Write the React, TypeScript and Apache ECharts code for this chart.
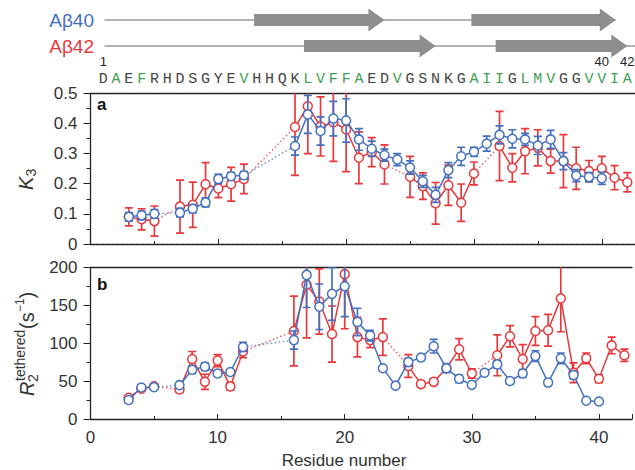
import React, { useEffect, useRef } from 'react';
import * as echarts from 'echarts';

// ---------- data ----------
const residues = [3, 4, 5, 6, 7, 8, 9, 10, 11, 12, 13, 14, 15, 16, 17, 18, 19, 20, 21, 22, 23, 24, 25, 26, 27, 28, 29, 30, 31, 32, 33, 34, 35, 36, 37, 38, 39, 40, 41, 42];

const k3Ab40 = [0.09, 0.095, 0.10, null, 0.104, 0.117, 0.138, 0.216, 0.225, 0.228, null, null, null, 0.325, 0.43, 0.375, 0.416, 0.41, 0.347, 0.316, 0.295, 0.28, 0.254, 0.208, 0.163, 0.245, 0.291, 0.306, 0.333, 0.362, 0.349, 0.347, 0.327, 0.347, 0.275, 0.227, 0.222, 0.218, null, null];
const k3Ab40Err = [0.014, 0.014, 0.014, null, 0.014, 0.014, 0.015, 0.015, 0.012, 0.012, null, null, null, 0.03, 0.063, 0.047, 0.057, 0.072, 0.036, 0.025, 0.02, 0.02, 0.022, 0.02, 0.025, 0.025, 0.03, 0.015, 0.025, 0.03, 0.03, 0.02, 0.03, 0.03, 0.028, 0.02, 0.015, 0.02, null, null];
const k3Ab42 = [0.09, 0.082, 0.076, null, 0.124, 0.13, 0.198, 0.184, 0.198, 0.216, null, null, null, 0.388, 0.457, 0.39, 0.404, 0.38, 0.286, 0.305, 0.264, null, 0.223, 0.192, 0.135, 0.195, 0.137, 0.234, null, 0.325, 0.253, 0.308, 0.319, 0.275, 0.275, 0.251, 0.242, 0.251, 0.22, 0.205];
const k3Ab42Err = [0.03, 0.035, 0.05, null, 0.088, 0.075, 0.072, 0.03, 0.056, 0.049, null, null, null, 0.16, 0.157, 0.098, 0.13, 0.14, 0.086, 0.048, 0.065, null, 0.068, 0.044, 0.069, 0.067, 0.062, 0.038, null, 0.115, 0.047, 0.075, 0.06, 0.04, 0.088, 0.07, 0.035, 0.04, 0.04, 0.032];

const r2Ab40 = [25, 41.5, 42, null, 44.6, 65, 69, 60, 62, 95, null, null, null, 104, 190, 148, 165, 175, 128, 110, 67, 44, 75, 81, 96, 67, 53, 45, 61, 72, 50, 60, 83, 48, 80, 58, 24, 23, null, null];
const r2Ab40Err = [3, 3, 3, null, 3, 5, 5, 4, 3, 6, null, null, null, 12, 43, 30, 35, 40, 18, 7, 3, 2, 5, 4, 9, 6, 5, 3, 3, 5, 4, 5, 7, 4, 7, 5, 3, 3, null, null];
const r2Ab42 = [28, 40, 43, null, 39, 79, 49, 77, 43, 89, null, null, null, 116, 177, 155, 112, 191, 108, 104, 108, null, 70, 46, 49, 67, 92, 60, null, 84, 109, 79, 116, 117, 159, 61, 80, 53, 97, 84];
const r2Ab42Err = [3, 3, 3, null, 4, 10, 10, 8, 5, 8, null, null, null, 46, 70, 43, 37, 72, 26, 10, 24, null, 15, 4, 4, 4, 14, 6, null, 27, 14, 19, 19, 21, 44, 13, 7, 5, 11, 8];

const sequence = ['D', 'A', 'E', 'F', 'R', 'H', 'D', 'S', 'G', 'Y', 'E', 'V', 'H', 'H', 'Q', 'K', 'L', 'V', 'F', 'F', 'A', 'E', 'D', 'V', 'G', 'S', 'N', 'K', 'G', 'A', 'I', 'I', 'G', 'L', 'M', 'V', 'G', 'G', 'V', 'V', 'I', 'A'];
const greenResidues = [2, 4, 12, 17, 18, 19, 20, 21, 24, 30, 31, 32, 34, 35, 36, 39, 40, 41, 42];
const sequenceNumbers = [1, 40, 42];
const strandsAb40 = [[12.8, 23.0], [29.8, 41.1]];
const strandsAb42 = [[16.7, 27.0], [31.7, 42.0]];
const backboneAb40 = [1.1, 41.1];
const backboneAb42 = [1.1, 43.5];

// ---------- styles ----------
const BLUE = '#4470c0';
const RED = '#e8383c';
const GREEN = '#3f9f52';
const FONT = '"Liberation Sans", Arial, Helvetica, sans-serif';
const LEFT = 90.5;
const X_MAX = 42.6;
const GRID_W = 635 - LEFT;

const ROW40 = 20;
const ROW42 = 46;
const ROW_NUM = 61;
const ROW_SEQ = 79;

function lineData(vals: (number | null)[]) {
  return residues.map((r, i) => [r, vals[i] === null ? null : vals[i]]);
}

function errData(vals: (number | null)[], errs: (number | null)[]) {
  const out: number[][] = [];
  residues.forEach((r, i) => {
    const v = vals[i];
    const e = errs[i];
    if (v !== null && e !== null) out.push([r, v - e, v + e]);
  });
  return out;
}

function gapSegments(vals: (number | null)[]) {
  const segs: number[][][] = [];
  let last: { r: number; v: number; i: number } | null = null;
  residues.forEach((r, i) => {
    const v = vals[i];
    if (v === null) return;
    if (last && i - last.i > 1) segs.push([[last.r, last.v], [r, v]]);
    last = { r, v, i };
  });
  return segs;
}

function errSeries(vals: any, errs: any, color: string, grid: number, z: number) {
  return {
    type: 'custom',
    xAxisIndex: grid,
    yAxisIndex: grid,
    clip: true,
    z,
    silent: true,
    encode: { x: 0, y: [1, 2] },
    data: errData(vals, errs),
    renderItem: (params: any, api: any) => {
      const x = api.value(0);
      const lo = api.coord([x, api.value(1)]);
      const hi = api.coord([x, api.value(2)]);
      const w = 4;
      const st = { stroke: color, lineWidth: 1.7 };
      return {
        type: 'group',
        children: [
          { type: 'line', shape: { x1: lo[0], y1: lo[1], x2: hi[0], y2: hi[1] }, style: st },
          { type: 'line', shape: { x1: lo[0] - w, y1: lo[1], x2: lo[0] + w, y2: lo[1] }, style: st },
          { type: 'line', shape: { x1: hi[0] - w, y1: hi[1], x2: hi[0] + w, y2: hi[1] }, style: st },
        ],
      };
    },
  };
}

function mainSeries(vals: any, color: string, grid: number, z: number) {
  return {
    type: 'line',
    xAxisIndex: grid,
    yAxisIndex: grid,
    data: lineData(vals),
    connectNulls: false,
    symbol: 'circle',
    symbolSize: 9,
    showAllSymbol: true,
    z,
    lineStyle: { color, width: 1.5 },
    itemStyle: { color: '#ffffff', borderColor: color, borderWidth: 1.5 },
    silent: true,
  };
}

function gapSeries(vals: any, color: string, grid: number, z: number) {
  return gapSegments(vals).map((seg) => ({
    type: 'line',
    xAxisIndex: grid,
    yAxisIndex: grid,
    data: seg,
    symbol: 'none',
    z,
    silent: true,
    lineStyle: { color, width: 1.4, type: [1.5, 2.5], opacity: 0.8 },
  }));
}

function App() {
  const ref = useRef<HTMLDivElement>(null);
  useEffect(() => {
    if (!ref.current) return;
    const chart = echarts.init(ref.current, undefined, { renderer: 'svg' });

    const yLabel = { fontSize: 17, color: '#333', fontFamily: FONT, margin: 13 };
    const majorX = (grid: number, showLabel: boolean, dashed: boolean) => ({
      type: 'value',
      gridIndex: grid,
      min: 0,
      max: X_MAX,
      interval: 10,
      position: 'bottom',
      axisLine: { show: true, lineStyle: { color: '#222', width: 1.3, type: dashed ? [4, 1] : 'solid' } },
      axisTick: { show: true, inside: true, length: 5, lineStyle: { color: '#222', width: 1 } },
      splitLine: { show: false },
      axisLabel: {
        show: showLabel,
        fontSize: 17,
        color: '#333',
        fontFamily: FONT,
        margin: 10,
        formatter: (v: number) => (v % 10 === 0 ? String(v) : ''),
      },
    });
    const minorX = (grid: number) => ({
      type: 'value',
      gridIndex: grid,
      min: 0,
      max: X_MAX,
      interval: 5,
      position: 'bottom',
      axisLine: { show: false },
      axisTick: { show: true, inside: true, length: 3, lineStyle: { color: '#222', width: 1 } },
      axisLabel: { show: false },
      splitLine: { show: false },
    });
    const topX = (grid: number, dashed: boolean) => ({
      type: 'value',
      gridIndex: grid,
      min: 0,
      max: X_MAX,
      position: 'top',
      axisLine: { show: true, lineStyle: { color: '#222', width: 1.4, type: dashed ? [2, 1] : 'solid' } },
      axisTick: { show: false },
      axisLabel: { show: false },
      splitLine: { show: false },
    });

    const option: any = {
      animation: false,
      grid: [
        { left: LEFT, top: 93.3, width: GRID_W, height: 150.7 },
        { left: LEFT, top: 267.3, width: GRID_W, height: 151.7 },
        { left: LEFT, top: 0, width: GRID_W, height: 92 },
      ],
      xAxis: [
        majorX(0, false, true),
        majorX(1, true, false),
        { type: 'value', gridIndex: 2, min: 0, max: X_MAX, show: false },
        topX(0, true),
        topX(1, false),
        minorX(0),
        minorX(1),
      ],
      yAxis: [
        {
          type: 'value', gridIndex: 0, min: 0, max: 0.5, interval: 0.1,
          axisLine: { show: true, lineStyle: { color: '#222', width: 1.3 } },
          axisTick: { show: true, inside: false, length: 7, lineStyle: { color: '#222' } },
          minorTick: { show: true, splitNumber: 2, length: 4, lineStyle: { color: '#222' } },
          splitLine: { show: false },
          axisLabel: { ...yLabel, formatter: (v: number) => (v === 0 ? '0' : v.toFixed(1)) },
        },
        {
          type: 'value', gridIndex: 1, min: 0, max: 200, interval: 50,
          axisLine: { show: true, lineStyle: { color: '#222', width: 1.3 } },
          axisTick: { show: true, inside: false, length: 7, lineStyle: { color: '#222' } },
          minorTick: { show: true, splitNumber: 2, length: 4, lineStyle: { color: '#222' } },
          splitLine: { show: false },
          axisLabel: { ...yLabel },
        },
        { type: 'value', gridIndex: 2, min: 0, max: 92, inverse: true, show: false },
      ],
      series: [
        // panel a
        ...gapSeries(k3Ab42, RED, 0, 2),
        ...gapSeries(k3Ab40, BLUE, 0, 2),
        errSeries(k3Ab42, k3Ab42Err, RED, 0, 3),
        mainSeries(k3Ab42, RED, 0, 4),
        errSeries(k3Ab40, k3Ab40Err, BLUE, 0, 5),
        mainSeries(k3Ab40, BLUE, 0, 6),
        // panel b
        ...gapSeries(r2Ab42, RED, 1, 2),
        ...gapSeries(r2Ab40, BLUE, 1, 2),
        errSeries(r2Ab42, r2Ab42Err, RED, 1, 3),
        mainSeries(r2Ab42, RED, 1, 4),
        errSeries(r2Ab40, r2Ab40Err, BLUE, 1, 5),
        mainSeries(r2Ab40, BLUE, 1, 6),
        // top: backbones
        {
          type: 'custom', xAxisIndex: 2, yAxisIndex: 2, silent: true, clip: false, z: 1,
          data: [[backboneAb40[0], backboneAb40[1], 0], [backboneAb42[0], backboneAb42[1], 1]],
          renderItem: (params: any, api: any) => {
            const y = api.value(2) === 0 ? ROW40 : ROW42;
            const p1 = api.coord([api.value(0), y]);
            const p2 = api.coord([api.value(1), y]);
            return { type: 'line', shape: { x1: p1[0], y1: p1[1], x2: p2[0], y2: p2[1] }, style: { stroke: '#9a9a9a', lineWidth: 1.6 } };
          },
        },
        // top: strands
        {
          type: 'custom', xAxisIndex: 2, yAxisIndex: 2, silent: true, clip: false, z: 2,
          data: [...strandsAb40.map((s) => [s[0], s[1], 0]), ...strandsAb42.map((s) => [s[0], s[1], 1])],
          renderItem: (params: any, api: any) => {
            const y = api.value(2) === 0 ? ROW40 : ROW42;
            const p1 = api.coord([api.value(0), y]);
            const p2 = api.coord([api.value(1), y]);
            const bh = 6, hh = 11.5, hl = 16;
            const yy = p1[1];
            return {
              type: 'polygon',
              shape: {
                points: [
                  [p1[0], yy - bh], [p2[0] - hl, yy - bh], [p2[0] - hl, yy - hh], [p2[0], yy],
                  [p2[0] - hl, yy + hh], [p2[0] - hl, yy + bh], [p1[0], yy + bh],
                ],
              },
              style: { fill: '#8e8e8e' },
            };
          },
        },
        // top: sequence letters
        {
          type: 'custom', xAxisIndex: 2, yAxisIndex: 2, silent: true, clip: false, z: 2,
          data: sequence.map((s, i) => [i + 1, ROW_SEQ]),
          renderItem: (params: any, api: any) => {
            const r = api.value(0);
            const p = api.coord([r, api.value(1)]);
            return {
              type: 'text', x: p[0], y: p[1],
              style: {
                text: sequence[r - 1],
                fill: greenResidues.indexOf(r) >= 0 ? GREEN : '#444',
                font: '15px "Liberation Mono", "DejaVu Sans Mono", monospace',
                textAlign: 'center', textVerticalAlign: 'middle',
              },
            };
          },
        },
        // top: sequence numbers
        {
          type: 'custom', xAxisIndex: 2, yAxisIndex: 2, silent: true, clip: false, z: 2,
          data: sequenceNumbers.map((n) => [n, ROW_NUM]),
          renderItem: (params: any, api: any) => {
            const p = api.coord([api.value(0), api.value(1)]);
            return {
              type: 'text', x: p[0], y: p[1],
              style: { text: String(api.value(0)), fill: '#222', font: '13px ' + FONT, textAlign: 'center', textVerticalAlign: 'middle' },
            };
          },
        },
      ],
      graphic: [
        { type: 'text', x: 94, y: ROW40, style: { text: 'Aβ40', fill: BLUE, font: '19px ' + FONT, textAlign: 'right', textVerticalAlign: 'middle' } },
        { type: 'text', x: 94, y: ROW42, style: { text: 'Aβ42', fill: RED, font: '19px ' + FONT, textAlign: 'right', textVerticalAlign: 'middle' } },
        { type: 'text', x: 97, y: 104, style: { text: 'a', fill: '#111', font: 'bold 17px ' + FONT, textAlign: 'left', textVerticalAlign: 'middle' } },
        { type: 'text', x: 97, y: 284, style: { text: 'b', fill: '#111', font: 'bold 17px ' + FONT, textAlign: 'left', textVerticalAlign: 'middle' } },
        {
          type: 'group', x: 26, y: 190, rotation: Math.PI / 2,
          children: [
            { type: 'text', x: 0, y: 0, style: { text: 'K', fill: '#333', font: 'italic 20px ' + FONT, textAlign: 'left', textVerticalAlign: 'middle' } },
            { type: 'text', x: 13.5, y: 5, style: { text: '3', fill: '#333', font: '14px ' + FONT, textAlign: 'left', textVerticalAlign: 'middle' } },
          ],
        },
        {
          type: 'group', x: 27, y: 396, rotation: Math.PI / 2,
          children: [
            { type: 'text', x: 0, y: 0, style: { text: 'R', fill: '#333', font: 'italic 20px ' + FONT, textAlign: 'left', textVerticalAlign: 'middle' } },
            { type: 'text', x: 14, y: 6, style: { text: '2', fill: '#333', font: '14px ' + FONT, textAlign: 'left', textVerticalAlign: 'middle' } },
            { type: 'text', x: 15, y: -7, style: { text: 'tethered', fill: '#333', font: '14px ' + FONT, textAlign: 'left', textVerticalAlign: 'middle' } },
            { type: 'text', x: 67, y: 0, style: { text: '(s', fill: '#333', font: '20px ' + FONT, textAlign: 'left', textVerticalAlign: 'middle' } },
            { type: 'text', x: 84, y: -7, style: { text: '\u22121', fill: '#333', font: '12px ' + FONT, textAlign: 'left', textVerticalAlign: 'middle' } },
            { type: 'text', x: 97.5, y: 0, style: { text: ')', fill: '#333', font: '20px ' + FONT, textAlign: 'left', textVerticalAlign: 'middle' } },
          ],
        },
        { type: 'text', x: 344, y: 460, style: { text: 'Residue number', fill: '#333', font: '17px ' + FONT, textAlign: 'center', textVerticalAlign: 'middle' } },
      ],
    };

    chart.setOption(option);
    return () => chart.dispose();
  }, []);

  return (
    <div
      ref={ref}
      style={{ position: 'fixed', left: 0, top: 0, width: 635, height: 470, background: '#ffffff', overflow: 'hidden' }}
    />
  );
}

export default App;
